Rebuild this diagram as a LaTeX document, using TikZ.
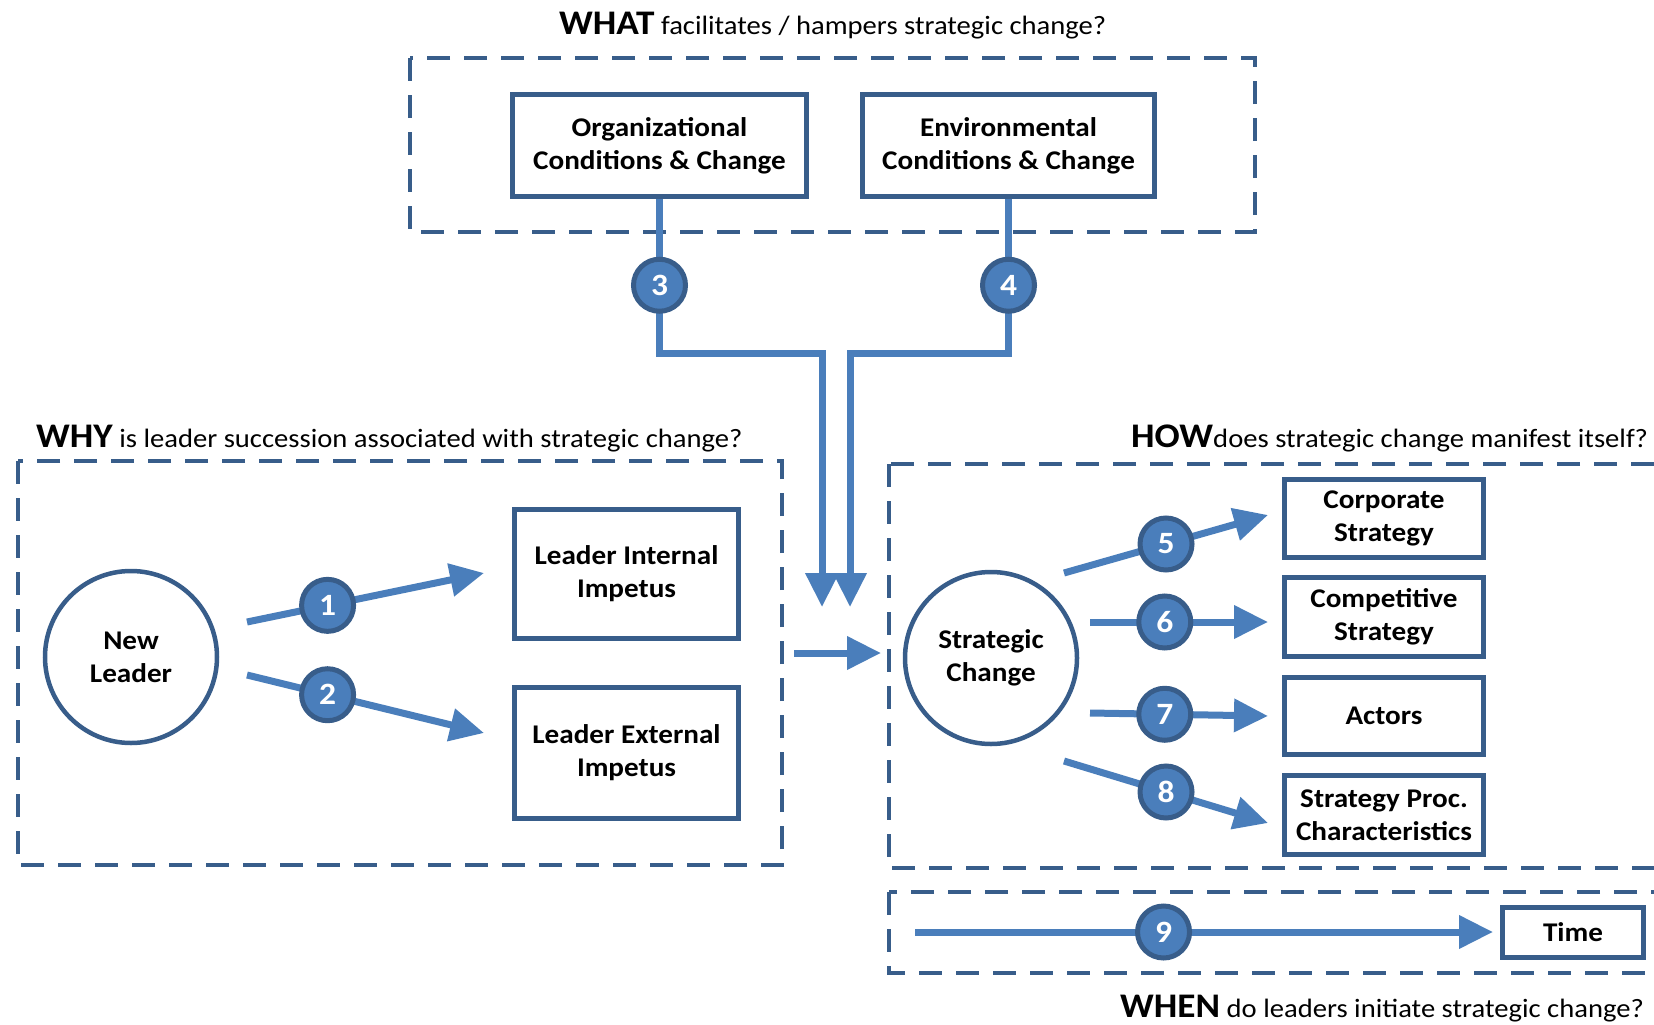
\documentclass[tikz,border=0pt]{standalone}
\usepackage{fontspec}
\setmainfont[FakeStretch=1.08]{Carlito}
\usetikzlibrary{arrows.meta}

\definecolor{darkblue}{RGB}{56,93,138}
\definecolor{midblue}{RGB}{74,126,187}

\newcommand{\boxfont}{\fontsize{27}{33}\selectfont\bfseries}
\newcommand{\numfont}{\fontsize{31}{31}\selectfont\bfseries}
\newcommand{\headfont}{\fontsize{34.5}{38}\selectfont\bfseries}
\newcommand{\questfont}{\fontsize{26.5}{30}\selectfont}

\tikzset{
	box/.style={draw=darkblue, line width=5pt, align=center, font=\boxfont, inner sep=0pt},
	groupbox/.style={draw=darkblue, line width=4pt, dash pattern=on 23pt off 14pt},
	bubble/.style={circle, draw=darkblue, line width=4.5pt, minimum size=172pt, align=center, font=\boxfont, inner sep=0pt},
	num/.style={circle, fill=midblue, draw=darkblue, line width=5pt, minimum size=52pt, inner sep=0pt, text=white, font=\numfont},
	flow/.style={draw=midblue, line width=7pt, -{Triangle[length=34pt,width=32pt]}},
	question/.style={anchor=base west, inner sep=0pt, font=\questfont},
}

\begin{document}
\begin{tikzpicture}[x=1pt, y=-1pt]
	\useasboundingbox (0,0) rectangle (1654,1025);
	
	% group boxes
	\draw [groupbox] (410,58) rectangle (1255,232);  % WHAT
	\draw [groupbox] (18,461) rectangle (782,865);  % WHY
	\draw [groupbox] (889,464) rectangle (1700,868);  % HOW
	\draw [groupbox] (889,892) rectangle (1700,973);  % WHEN
	
	% questions
	\node [question] (qwhat) at (559,35) {{\headfont WHAT} facilitates / hampers strategic change?};
	\node [question] (qwhy) at (36,447) {{\headfont WHY} is leader succession associated with strategic change?};
	\node [question] (qhow) at (1131,447) {{\headfont HOW}does strategic change manifest itself?};
	\node [question] (qwhen) at (1120,1017) {{\headfont WHEN} do leaders initiate strategic change?};
	
	% what
	\node [box, minimum width=294pt, minimum height=102pt] (org) at (659.5,145.5) {Organizational\\Conditions \& Change};
	\node [box, minimum width=292pt, minimum height=102pt] (env) at (1008.5,145.5) {Environmental\\Conditions \& Change};
	
	% why
	\node [bubble] (nl) at (131,657) {New\\Leader};
	\node [box, minimum width=224pt, minimum height=129pt] (lii) at (626.5,574) {Leader Internal\\Impetus};
	\node [box, minimum width=224pt, minimum height=131pt] (lei) at (626.5,753) {Leader External\\Impetus};
	
	% how
	\node [bubble] (sc) at (991,658) {Strategic\\Change};
	\node [box, minimum width=199pt, minimum height=78pt] (cs) at (1384,518.5) {Corporate\\Strategy};
	\node [box, minimum width=199pt, minimum height=79pt] (ks) at (1384,617) {Competitive\\Strategy};
	\node [box, minimum width=199pt, minimum height=77pt] (ac) at (1384,716) {Actors};
	\node [box, minimum width=199pt, minimum height=79pt] (sp) at (1384,815) {Strategy Proc.\\Characteristics};
	
	% when
	\node [box, minimum width=141pt, minimum height=50pt] (ti) at (1573,932.5) {Time};
	
	% arrow ends
	\coordinate (s1) at (247,622);  \coordinate (e1) at (484,573);
	\coordinate (s2) at (247,675);  \coordinate (e2) at (484,733);
	\coordinate (d3) at (822,607);
	\coordinate (d4) at (850,607);
	\coordinate (s5) at (1064,573); \coordinate (e5) at (1268,515);
	\coordinate (s6) at (1090,622); \coordinate (e6) at (1268,622);
	\coordinate (s7) at (1090,713); \coordinate (e7) at (1268,716);
	\coordinate (s8) at (1064,761); \coordinate (e8) at (1268,823);
	\coordinate (s9) at (915,932);  \coordinate (e9) at (1493,932);
	\coordinate (sw) at (794,653);  \coordinate (ew) at (881,653);
	
	% arrows
	\draw [flow] (s1) -- node [num, pos=0.34] (n1) {1} (e1);
	\draw [flow] (s2) -- node [num, pos=0.34] (n2) {2} (e2);
	\draw [flow] (org.south) -- node [num, pos=0.56] (n3) {3} ++(0,154) -| (d3);
	\draw [flow] (env.south) -- node [num, pos=0.56] (n4) {4} ++(0,154) -| (d4);
	\draw [flow] (sw) -- (ew);
	\draw [flow] (s5) -- node [num, pos=0.5] (n5) {5} (e5);
	\draw [flow] (s6) -- node [num, pos=0.42] (n6) {6} (e6);
	\draw [flow] (s7) -- node [num, pos=0.42] (n7) {7} (e7);
	\draw [flow] (s8) -- node [num, pos=0.5] (n8) {8} (e8);
	\draw [flow] (s9) -- node [num, pos=0.43] (n9) {9} (e9);
\end{tikzpicture}
\end{document}
